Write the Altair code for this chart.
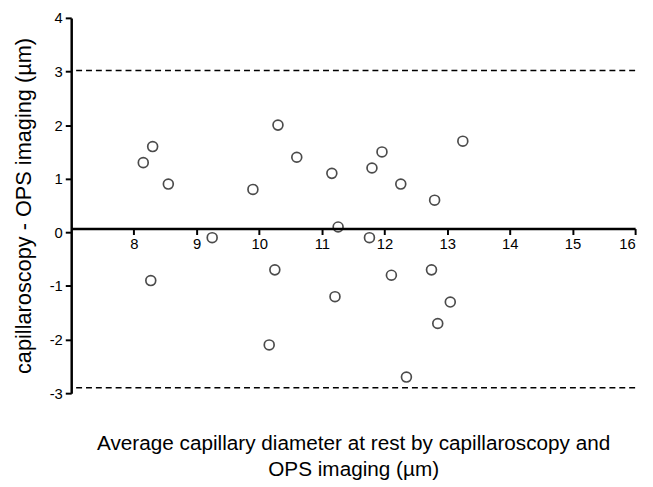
import altair as alt
import pandas as pd

# Bland-Altman data
avg_diam = [8.15, 8.30, 8.55, 8.27, 9.25, 9.90, 10.30, 10.60, 10.25, 10.16,
            11.16, 11.26, 11.21, 11.80, 11.76, 11.96, 12.26, 12.11, 12.35,
            12.80, 12.75, 12.85, 13.05, 13.25]
difference = [1.30, 1.60, 0.90, -0.90, -0.10, 0.80, 2.00, 1.40, -0.70, -2.10,
              1.10, 0.10, -1.20, 1.20, -0.10, 1.50, 0.90, -0.80, -2.70,
              0.60, -0.70, -1.70, -1.30, 1.70]
limits = [3.02, -2.90]
mean_bias = 0.07
x_ticks = [8, 9, 10, 11, 12, 13, 14, 15, 16]
y_ticks = [-3, -2, -1, 0, 1, 2, 3, 4]

W, H = 571, 380
Y_MIN, Y_MAX = -3, 4
X_MIN, X_MAX = 7, 16

pts = pd.DataFrame({"x": avg_diam, "y": difference})
lim = pd.DataFrame({"y": limits})

FONT = "Liberation Sans"

xscale = alt.Scale(domain=[X_MIN, X_MAX], nice=False, zero=False)
yscale = alt.Scale(domain=[Y_MIN, Y_MAX], nice=False, zero=False)

axis_offset = -(mean_bias - Y_MIN) / (Y_MAX - Y_MIN) * H

x_axis = alt.Axis(
    values=x_ticks, offset=axis_offset, grid=False, format="d",
    domainColor="black", domainWidth=2.5, tickColor="black", tickWidth=2,
    tickSize=6, labelFont=FONT, labelFontSize=15, labelColor="black",
    labelPadding=2,
    title=["Average capillary diameter at rest by capillaroscopy and",
           "OPS imaging (\u00b5m)"],
    titleFont=FONT, titleFontSize=21, titleFontWeight="normal",
    titleColor="black", titleLineHeight=26,
    titleX=W / 2, titleY=207, titleAlign="center", titleBaseline="top",
)
y_axis = alt.Axis(
    values=y_ticks, grid=False, format="d",
    labelExpr="replace(datum.label, '\u2212', '-')",
    domainColor="black", domainWidth=2.5,
    tickColor="black", tickWidth=2, tickSize=6, labelFont=FONT,
    labelFontSize=15, labelColor="black", labelPadding=3,
    title="capillaroscopy - OPS imaging (\u00b5m)", titleFont=FONT,
    titleFontSize=22, titleFontWeight="normal", titleColor="black",
    titlePadding=14,
)

points = alt.Chart(pts).mark_point(
    shape="circle", filled=False, color="black", size=100, strokeWidth=1.7
).encode(
    x=alt.X("x:Q", scale=xscale, axis=x_axis),
    y=alt.Y("y:Q", scale=yscale, axis=y_axis),
)

rules = alt.Chart(lim).mark_rule(
    color="black", strokeWidth=1.5, strokeDash=[6, 4]
).encode(y=alt.Y("y:Q", scale=yscale))

chart = alt.layer(rules, points).properties(
    width=W, height=H,
    autosize=alt.AutoSizeParams(type="none"),
    padding={"left": 64, "top": 7, "right": 10, "bottom": 92},
).configure_view(stroke=None)

chart.save("out.html", embed_options={"renderer": "svg", "actions": False})
